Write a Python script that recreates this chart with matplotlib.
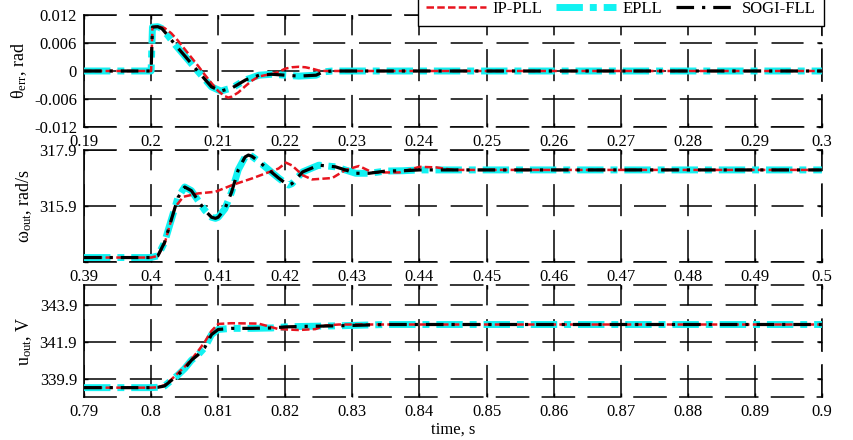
import matplotlib
matplotlib.use("Agg")
import matplotlib.pyplot as plt

plt.rcParams['font.family'] = ['Liberation Serif', 'DejaVu Serif']
plt.rcParams['mathtext.fontset'] = 'custom'
plt.rcParams['mathtext.rm'] = 'Liberation Serif'
plt.rcParams['mathtext.it'] = 'Liberation Serif:italic'

# ---- panel 1: phase error (rad)
t_th_ip = [0.19, 0.2, 0.2002, 0.201, 0.202, 0.203, 0.204, 0.205, 0.206, 0.207, 0.208, 0.209, 0.210,
           0.211, 0.2115, 0.212, 0.213, 0.214, 0.215, 0.216, 0.217, 0.218, 0.219, 0.220, 0.221,
           0.222, 0.223, 0.224, 0.225, 0.226, 0.3]
th_ip = [0, 0, 0.0094, 0.0096, 0.0092, 0.0081, 0.0065, 0.0047, 0.0029, 0.0011, -0.0008, -0.0026,
         -0.0043, -0.0054, -0.0057, -0.0055, -0.0046, -0.0033, -0.0021, -0.0012, -0.0009, -0.0007,
         -0.0002, 0.0005, 0.0008, 0.0009, 0.0008, 0.0005, 0.0001, 0.0, 0]
t_th_epll = [0.19, 0.2, 0.2002, 0.201, 0.2016, 0.2025, 0.2036, 0.2051, 0.207, 0.209, 0.2104, 0.2121,
             0.2141, 0.2161, 0.218, 0.220, 0.222, 0.2246, 0.2256, 0.227, 0.3]
th_epll = [0, 0, 0.0094, 0.0095, 0.0091, 0.0076, 0.0056, 0.0031, -0.0001, -0.0034, -0.0043, -0.0036,
           -0.0019, -0.0009, -0.0007, -0.0009, -0.0011, -0.0009, -0.0002, 0.0, 0]
t_th_sogi = t_th_epll
th_sogi = th_epll

# ---- panel 2: output frequency (rad/s)
t_w_ip = [0.39, 0.4, 0.401, 0.402, 0.403, 0.4036, 0.4048, 0.407, 0.4096, 0.4121, 0.4151, 0.4171,
          0.419, 0.4201, 0.421, 0.4226, 0.424, 0.427, 0.429, 0.431, 0.433, 0.437, 0.440, 0.4425,
          0.445, 0.5]
w_ip = [314.06, 314.06, 314.12, 314.55, 315.4, 315.87, 316.23, 316.35, 316.41, 316.65, 316.89,
        317.07, 317.24, 317.45, 317.35, 317.0, 316.85, 316.9, 317.19, 317.33, 317.1, 317.1, 317.3,
        317.28, 317.19, 317.19]
t_w_epll = [0.39, 0.4, 0.401, 0.402, 0.403, 0.404, 0.405, 0.406, 0.407, 0.408, 0.409, 0.4096, 0.410,
            0.411, 0.412, 0.413, 0.414, 0.4145, 0.415, 0.416, 0.417, 0.418, 0.419, 0.420, 0.4205,
            0.421, 0.4226, 0.425, 0.4275, 0.4305, 0.4325, 0.435, 0.4375, 0.44, 0.5]
w_epll = [314.06, 314.06, 314.12, 314.6, 315.4, 316.2, 316.58, 316.45, 316.1, 315.75, 315.5, 315.46,
          315.5, 315.8, 316.4, 317.2, 317.65, 317.72, 317.68, 317.5, 317.3, 317.1, 316.9, 316.72,
          316.65, 316.7, 317.12, 317.36, 317.3, 317.07, 317.07, 317.15, 317.16, 317.19, 317.19]
t_w_sogi = t_w_epll
w_sogi = w_epll

# ---- panel 3: output amplitude (V)
t_u_ip = [0.79, 0.8, 0.801, 0.802, 0.803, 0.804, 0.805, 0.806, 0.807, 0.808, 0.809, 0.810, 0.812,
          0.816, 0.8175, 0.819, 0.822, 0.8245, 0.826, 0.828, 0.9]
u_ip = [339.41, 339.41, 339.43, 339.55, 339.85, 340.2, 340.55, 340.95, 341.4, 341.9, 342.5, 342.88,
        342.92, 342.9, 342.75, 342.6, 342.55, 342.6, 342.8, 342.85, 342.85]
t_u_epll = [0.79, 0.8, 0.801, 0.802, 0.803, 0.804, 0.805, 0.806, 0.807, 0.808, 0.809, 0.810, 0.812,
            0.815, 0.818, 0.820, 0.822, 0.825, 0.828, 0.830, 0.835, 0.9]
u_epll = [339.41, 339.41, 339.43, 339.5, 339.8, 340.1, 340.45, 340.9, 341.2, 341.6, 342.3, 342.58,
          342.64, 342.64, 342.66, 342.72, 342.74, 342.76, 342.78, 342.8, 342.85, 342.85]
t_u_sogi = t_u_epll
u_sogi = u_epll

xlims = [(0.19, 0.3), (0.39, 0.5), (0.79, 0.9)]
ylims = [(-0.012, 0.012), (313.9, 317.9), (338.9, 345.0)]
yticks = [[-0.012, -0.006, 0, 0.006, 0.012], [313.9, 315.9, 317.9], [339.9, 341.9, 343.9]]
yticklabels = [['-0.012', '-0.006', '0', '0.006', '0.012'], ['', '315.9', '317.9'],
               ['339.9', '341.9', '343.9']]
ylabels = [r'$\mathrm{\theta_{err}}$, rad', r'$\mathrm{\omega_{out}}$, rad/s', r'$\mathrm{u_{out}}$, V']
names = ['IP-PLL', 'EPLL', 'SOGI-FLL']

data = [
    [(t_th_ip, th_ip), (t_th_epll, th_epll), (t_th_sogi, th_sogi)],
    [(t_w_ip, w_ip), (t_w_epll, w_epll), (t_w_sogi, w_sogi)],
    [(t_u_ip, u_ip), (t_u_epll, u_epll), (t_u_sogi, u_sogi)],
]

fig = plt.figure(figsize=(8.54, 4.4), dpi=100)
positions = [[0.0984, 0.7114, 0.864, 0.2545],
             [0.0984, 0.4045, 0.864, 0.2545],
             [0.0984, 0.0977, 0.864, 0.2545]]

grid_dash = (0, (21, 9))
handles = None
for i in range(3):
    ax = fig.add_axes(positions[i])
    (ti, yi), (te, ye), (ts, ys) = data[i]
    h_e, = ax.plot(te, ye, color='#12f2f2', lw=5, linestyle=(0, (3.8, 1.0, 1.0, 1.0)),
                   solid_capstyle='butt', dash_capstyle='butt', zorder=3)
    h_i, = ax.plot(ti, yi, color='#e8141e', lw=1.8, linestyle=(0, (3, 1.3)), zorder=4)
    h_s, = ax.plot(ts, ys, color='black', lw=2.3, linestyle=(0, (5.5, 2.5, 1, 2.5)), zorder=5)
    handles = [h_i, h_e, h_s]

    ax.set_xlim(*xlims[i])
    ax.set_ylim(*ylims[i])
    x0 = xlims[i][0]
    xt = [round(x0 + 0.01 * k, 2) for k in range(12)]
    ax.set_xticks(xt)
    ax.set_xticklabels(['%g' % v for v in xt])
    ax.set_yticks(yticks[i])
    ax.set_yticklabels(yticklabels[i])
    ax.grid(True, color='black', lw=1.1, linestyle=grid_dash)
    ax.tick_params(direction='in', length=3, width=1, labelsize=12, pad=5,
                   top=True, right=True)
    for s in ['top', 'bottom', 'right']:
        ax.spines[s].set_linestyle(grid_dash)
        ax.spines[s].set_linewidth(1.1)
    ax.spines['left'].set_linewidth(1.2)
    ax.set_ylabel(ylabels[i], fontsize=13, labelpad=4)

ax.set_xlabel('time, s', fontsize=12, labelpad=1)

fig.legend(handles, names, loc='upper right', bbox_to_anchor=(0.975, 1.035), ncol=3,
           fontsize=12, handlelength=3.6, handletextpad=0.4, columnspacing=0.8,
           frameon=True, fancybox=False, edgecolor='black', framealpha=1, borderpad=0.5)

fig.savefig('out.png', dpi=100)
